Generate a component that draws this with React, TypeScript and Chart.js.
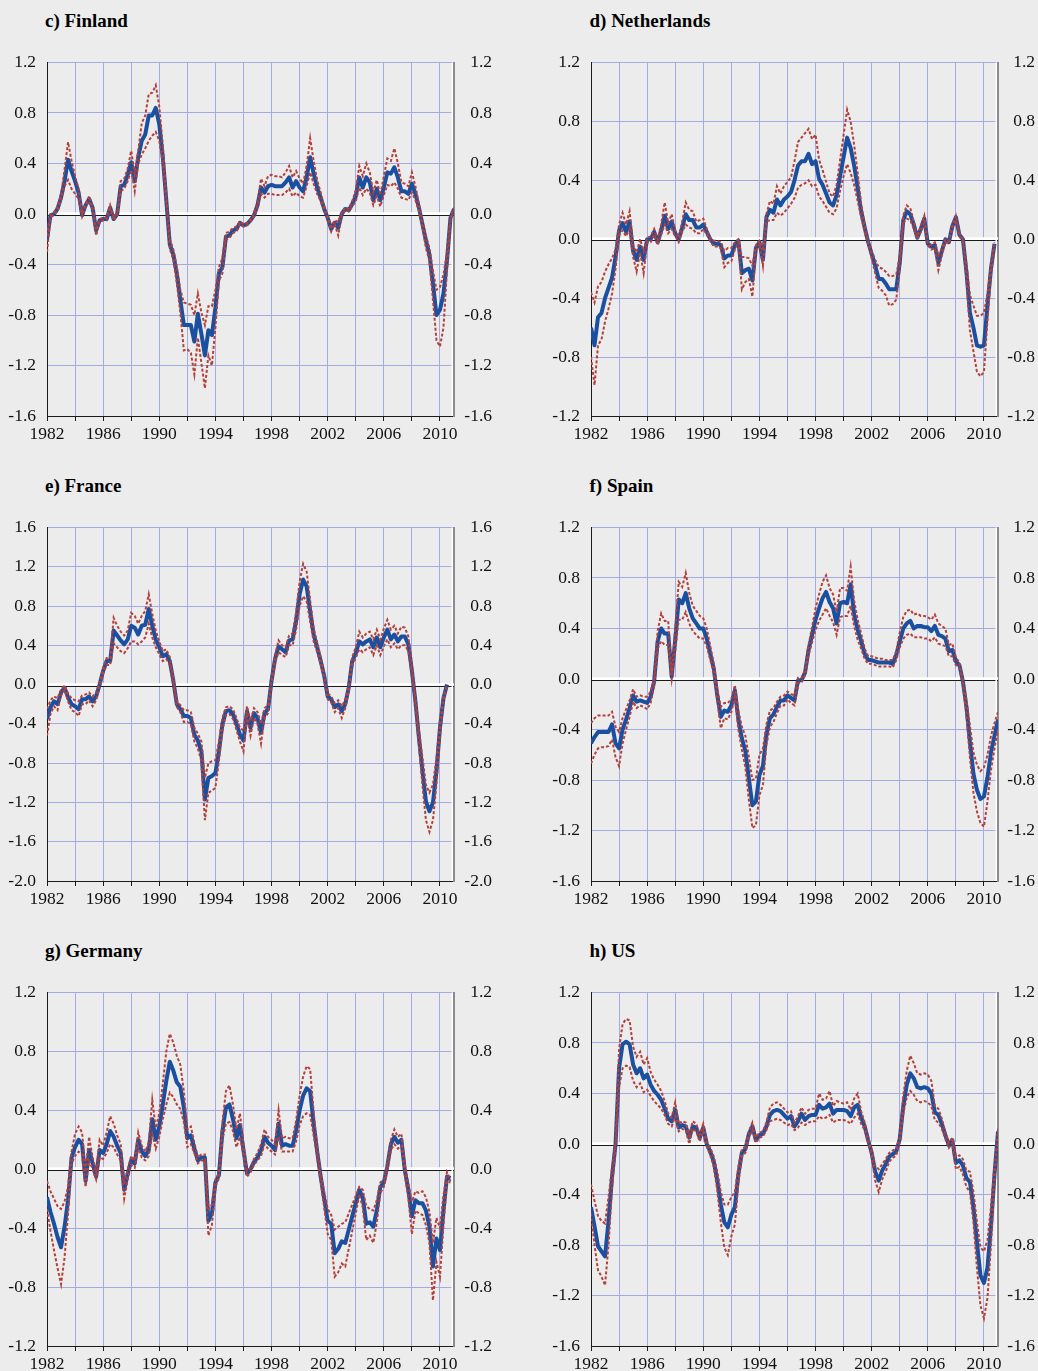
import React, { useEffect, useRef } from "react";
import { Chart, registerables } from "chart.js";

Chart.register(...registerables);

// ---------- data (quarterly, first point = 1982Q1) ----------
const START_YEAR = 1982;
const QUARTER = 0.25;
const X_MIN = 1982;
const X_MAX = 2011;
const X_GRID_STEP = 2;
const X_LABEL_STEP = 4;

const finlandMain = [
  -0.20, -0.01, 0.00, 0.04, 0.13, 0.26, 0.43, 0.34, 0.26, 0.17, -0.01, 0.07,
  0.12, 0.05, -0.13, -0.05, -0.04, -0.04, 0.05, -0.04, 0.00, 0.22, 0.23, 0.31,
  0.41, 0.26, 0.45, 0.58, 0.63, 0.78, 0.78, 0.84, 0.71, 0.45, 0.11, -0.24,
  -0.32, -0.47, -0.68, -0.88, -0.88, -0.88, -1.01, -0.79, -0.95, -1.12, -0.92, -0.96,
  -0.74, -0.47, -0.42, -0.18, -0.17, -0.13, -0.12, -0.07, -0.09, -0.08, -0.05, -0.01,
  0.07, 0.21, 0.17, 0.22, 0.23, 0.22, 0.22, 0.22, 0.25, 0.29, 0.21, 0.26,
  0.21, 0.18, 0.29, 0.45, 0.32, 0.21, 0.13, 0.04, -0.03, -0.12, -0.07, -0.11,
  0.00, 0.04, 0.03, 0.08, 0.14, 0.29, 0.21, 0.29, 0.25, 0.11, 0.20, 0.11,
  0.21, 0.33, 0.32, 0.37, 0.29, 0.18, 0.18, 0.16, 0.24, 0.16, 0.05, -0.08,
  -0.21, -0.32, -0.55, -0.80, -0.76, -0.63, -0.37, -0.03, 0.04,
];
const finlandUpper = [
  -0.17, 0.00, 0.01, 0.06, 0.15, 0.35, 0.57, 0.42, 0.30, 0.20, 0.01, 0.08,
  0.14, 0.06, -0.11, -0.04, -0.03, -0.03, 0.07, -0.03, 0.01, 0.26, 0.28, 0.36,
  0.50, 0.32, 0.50, 0.72, 0.78, 0.95, 0.96, 1.02, 0.85, 0.55, 0.15, -0.20,
  -0.28, -0.42, -0.60, -0.70, -0.71, -0.72, -0.80, -0.63, -0.78, -0.88, -0.73, -0.73,
  -0.60, -0.42, -0.35, -0.15, -0.14, -0.11, -0.10, -0.06, -0.08, -0.07, -0.04, 0.00,
  0.09, 0.28, 0.22, 0.30, 0.31, 0.30, 0.30, 0.29, 0.33, 0.38, 0.29, 0.34,
  0.28, 0.24, 0.38, 0.60, 0.42, 0.27, 0.17, 0.06, -0.02, -0.10, -0.05, -0.06,
  0.01, 0.05, 0.04, 0.10, 0.19, 0.38, 0.30, 0.40, 0.33, 0.17, 0.27, 0.15,
  0.30, 0.44, 0.42, 0.52, 0.40, 0.25, 0.24, 0.22, 0.33, 0.22, 0.08, -0.06,
  -0.17, -0.27, -0.45, -0.60, -0.58, -0.48, -0.30, -0.02, 0.05,
];
const finlandLower = [
  -0.30, -0.03, 0.00, 0.02, 0.11, 0.22, 0.27, 0.20, 0.16, 0.12, -0.02, 0.06,
  0.10, 0.04, -0.17, -0.06, -0.05, -0.05, 0.04, -0.05, -0.01, 0.18, 0.20, 0.26,
  0.35, 0.18, 0.40, 0.47, 0.52, 0.58, 0.62, 0.65, 0.58, 0.40, 0.08, -0.28,
  -0.36, -0.55, -0.78, -1.08, -1.07, -1.10, -1.27, -0.98, -1.18, -1.38, -1.12, -1.20,
  -0.90, -0.53, -0.47, -0.20, -0.19, -0.15, -0.14, -0.08, -0.10, -0.09, -0.06, -0.02,
  0.05, 0.16, 0.13, 0.16, 0.16, 0.15, 0.15, 0.15, 0.17, 0.20, 0.14, 0.17,
  0.14, 0.13, 0.22, 0.33, 0.24, 0.16, 0.10, 0.03, -0.04, -0.14, -0.08, -0.17,
  -0.01, 0.03, 0.02, 0.06, 0.10, 0.21, 0.15, 0.20, 0.17, 0.07, 0.14, 0.06,
  0.15, 0.23, 0.22, 0.25, 0.20, 0.13, 0.12, 0.11, 0.17, 0.11, 0.03, -0.10,
  -0.27, -0.37, -0.68, -1.00, -1.05, -0.90, -0.45, -0.05, 0.03,
];

const netherlandsMain = [
  -0.60, -0.72, -0.53, -0.50, -0.40, -0.33, -0.26, -0.12, 0.06, 0.11, 0.05, 0.12,
  -0.08, -0.14, -0.05, -0.14, 0.00, 0.00, 0.05, -0.02, 0.06, 0.16, 0.07, 0.12,
  0.04, 0.00, 0.08, 0.17, 0.13, 0.13, 0.08, 0.08, 0.10, 0.05, 0.00, -0.03,
  -0.03, -0.04, -0.13, -0.11, -0.11, -0.04, -0.01, -0.23, -0.21, -0.20, -0.28, -0.06,
  -0.02, -0.14, 0.15, 0.20, 0.18, 0.27, 0.23, 0.27, 0.29, 0.32, 0.40, 0.50,
  0.53, 0.53, 0.58, 0.51, 0.53, 0.41, 0.37, 0.31, 0.25, 0.23, 0.30, 0.43,
  0.56, 0.69, 0.62, 0.50, 0.35, 0.19, 0.08, -0.02, -0.10, -0.18, -0.27, -0.27,
  -0.30, -0.34, -0.34, -0.34, -0.16, 0.13, 0.19, 0.17, 0.10, 0.01, 0.07, 0.14,
  -0.03, -0.05, -0.04, -0.16, -0.08, 0.00, -0.02, 0.09, 0.15, 0.03, 0.00, -0.22,
  -0.50, -0.60, -0.72, -0.73, -0.72, -0.45, -0.20, -0.03,
];
const netherlandsUpper = [
  -0.36, -0.43, -0.32, -0.29, -0.22, -0.17, -0.13, -0.07, 0.10, 0.18, 0.10, 0.19,
  -0.04, -0.09, 0.00, -0.08, 0.01, 0.02, 0.07, 0.00, 0.10, 0.25, 0.11, 0.17,
  0.06, 0.01, 0.12, 0.25, 0.20, 0.19, 0.12, 0.13, 0.14, 0.07, 0.01, -0.01,
  -0.01, -0.02, -0.08, -0.06, -0.06, -0.02, 0.00, -0.12, -0.12, -0.13, -0.18, -0.04,
  -0.01, -0.08, 0.17, 0.26, 0.24, 0.36, 0.31, 0.36, 0.39, 0.42, 0.53, 0.66,
  0.69, 0.72, 0.75, 0.68, 0.71, 0.54, 0.47, 0.39, 0.31, 0.29, 0.37, 0.54,
  0.71, 0.88, 0.80, 0.64, 0.45, 0.24, 0.10, -0.01, -0.08, -0.14, -0.19, -0.20,
  -0.22, -0.25, -0.25, -0.24, -0.12, 0.16, 0.23, 0.21, 0.12, 0.02, 0.09, 0.16,
  -0.02, -0.04, -0.02, -0.11, -0.06, 0.00, -0.01, 0.10, 0.16, 0.04, 0.00, -0.17,
  -0.38, -0.45, -0.52, -0.52, -0.50, -0.37, -0.17, -0.02,
];
const netherlandsLower = [
  -0.80, -0.99, -0.72, -0.68, -0.56, -0.47, -0.37, -0.20, 0.03, 0.06, 0.02, 0.07,
  -0.12, -0.22, -0.09, -0.23, -0.02, -0.02, 0.03, -0.04, 0.03, 0.10, 0.04, 0.07,
  0.02, -0.02, 0.05, 0.10, 0.08, 0.07, 0.04, 0.04, 0.07, 0.03, -0.01, -0.05,
  -0.05, -0.06, -0.19, -0.16, -0.15, -0.07, -0.02, -0.34, -0.29, -0.27, -0.39, -0.08,
  -0.03, -0.18, 0.12, 0.13, 0.13, 0.18, 0.16, 0.18, 0.21, 0.24, 0.28, 0.35,
  0.37, 0.38, 0.40, 0.36, 0.37, 0.29, 0.26, 0.22, 0.18, 0.17, 0.21, 0.33,
  0.43, 0.51, 0.45, 0.37, 0.26, 0.15, 0.05, -0.03, -0.13, -0.23, -0.33, -0.35,
  -0.38, -0.45, -0.44, -0.41, -0.20, 0.11, 0.14, 0.13, 0.07, 0.00, 0.05, 0.11,
  -0.04, -0.07, -0.06, -0.21, -0.11, -0.02, -0.03, 0.07, 0.13, 0.02, -0.01, -0.27,
  -0.62, -0.76, -0.90, -0.93, -0.90, -0.55, -0.24, -0.04,
];

const franceMain = [
  -0.35, -0.23, -0.17, -0.20, -0.08, -0.03, -0.13, -0.20, -0.22, -0.25, -0.15, -0.15,
  -0.12, -0.17, -0.12, 0.00, 0.14, 0.24, 0.24, 0.55, 0.50, 0.45, 0.41, 0.46,
  0.60, 0.58, 0.51, 0.60, 0.61, 0.77, 0.60, 0.46, 0.38, 0.29, 0.31, 0.24,
  0.04, -0.20, -0.25, -0.32, -0.32, -0.34, -0.51, -0.57, -0.68, -1.17, -0.95, -0.93,
  -0.90, -0.68, -0.40, -0.27, -0.26, -0.30, -0.40, -0.51, -0.57, -0.27, -0.44, -0.29,
  -0.34, -0.49, -0.29, -0.25, 0.04, 0.26, 0.39, 0.36, 0.33, 0.45, 0.46, 0.65,
  0.92, 1.07, 1.00, 0.75, 0.51, 0.38, 0.24, 0.09, -0.12, -0.15, -0.23, -0.20,
  -0.27, -0.20, -0.03, 0.24, 0.32, 0.44, 0.41, 0.44, 0.46, 0.38, 0.48, 0.38,
  0.48, 0.56, 0.46, 0.51, 0.44, 0.49, 0.49, 0.41, 0.14, -0.17, -0.54, -0.88,
  -1.19, -1.29, -1.20, -0.88, -0.44, -0.14, 0.00,
];
const franceUpper = [
  -0.25, -0.16, -0.12, -0.14, -0.05, -0.01, -0.09, -0.14, -0.16, -0.17, -0.11, -0.10,
  -0.08, -0.12, -0.08, 0.02, 0.17, 0.27, 0.27, 0.68, 0.60, 0.54, 0.50, 0.55,
  0.73, 0.70, 0.62, 0.70, 0.75, 0.92, 0.72, 0.55, 0.44, 0.34, 0.36, 0.28,
  0.07, -0.17, -0.21, -0.26, -0.26, -0.28, -0.44, -0.50, -0.58, -0.95, -0.80, -0.78,
  -0.77, -0.58, -0.34, -0.23, -0.22, -0.25, -0.34, -0.44, -0.47, -0.22, -0.37, -0.24,
  -0.28, -0.40, -0.24, -0.21, 0.06, 0.30, 0.45, 0.40, 0.38, 0.50, 0.52, 0.74,
  1.05, 1.23, 1.15, 0.86, 0.57, 0.43, 0.28, 0.11, -0.09, -0.12, -0.19, -0.16,
  -0.22, -0.16, 0.00, 0.28, 0.38, 0.54, 0.48, 0.52, 0.54, 0.46, 0.56, 0.46,
  0.57, 0.66, 0.56, 0.60, 0.52, 0.59, 0.58, 0.49, 0.18, -0.13, -0.46, -0.74,
  -1.02, -1.10, -1.02, -0.75, -0.37, -0.11, 0.00,
];
const franceLower = [
  -0.52, -0.30, -0.22, -0.26, -0.11, -0.05, -0.17, -0.26, -0.28, -0.32, -0.20, -0.20,
  -0.16, -0.22, -0.16, -0.02, 0.11, 0.20, 0.20, 0.42, 0.38, 0.34, 0.32, 0.37,
  0.44, 0.44, 0.41, 0.44, 0.48, 0.62, 0.48, 0.38, 0.31, 0.24, 0.26, 0.20,
  0.01, -0.23, -0.28, -0.38, -0.38, -0.40, -0.58, -0.65, -0.78, -1.38, -1.10, -1.08,
  -1.05, -0.78, -0.46, -0.31, -0.30, -0.35, -0.46, -0.58, -0.68, -0.32, -0.52, -0.34,
  -0.40, -0.60, -0.34, -0.29, 0.01, 0.22, 0.33, 0.30, 0.28, 0.40, 0.40, 0.56,
  0.80, 0.90, 0.85, 0.64, 0.44, 0.33, 0.21, 0.07, -0.15, -0.18, -0.28, -0.24,
  -0.34, -0.24, -0.06, 0.20, 0.27, 0.36, 0.33, 0.36, 0.38, 0.30, 0.40, 0.30,
  0.39, 0.46, 0.38, 0.42, 0.36, 0.40, 0.40, 0.34, 0.10, -0.21, -0.62, -1.02,
  -1.38, -1.50, -1.38, -1.02, -0.52, -0.17, -0.01,
];

const spainMain = [
  -0.51, -0.46, -0.42, -0.42, -0.42, -0.42, -0.36, -0.51, -0.55, -0.40, -0.32, -0.23,
  -0.13, -0.18, -0.17, -0.18, -0.19, -0.14, -0.02, 0.30, 0.40, 0.36, 0.36, 0.02,
  0.31, 0.63, 0.60, 0.68, 0.56, 0.48, 0.44, 0.40, 0.40, 0.32, 0.20, 0.08,
  -0.13, -0.30, -0.25, -0.26, -0.21, -0.09, -0.32, -0.47, -0.57, -0.79, -1.00, -0.97,
  -0.76, -0.69, -0.44, -0.31, -0.28, -0.22, -0.17, -0.17, -0.13, -0.15, -0.17, -0.01,
  -0.01, 0.05, 0.23, 0.35, 0.47, 0.56, 0.64, 0.69, 0.61, 0.56, 0.44, 0.60,
  0.61, 0.60, 0.75, 0.51, 0.39, 0.30, 0.20, 0.15, 0.15, 0.14, 0.13, 0.13,
  0.13, 0.13, 0.12, 0.19, 0.30, 0.40, 0.44, 0.46, 0.40, 0.42, 0.42, 0.41,
  0.41, 0.38, 0.42, 0.35, 0.34, 0.32, 0.22, 0.23, 0.14, 0.11, -0.02, -0.22,
  -0.50, -0.75, -0.88, -0.95, -0.93, -0.78, -0.58, -0.45, -0.32,
];
const spainUpper = [
  -0.35, -0.31, -0.29, -0.29, -0.29, -0.29, -0.26, -0.38, -0.42, -0.31, -0.24, -0.17,
  -0.08, -0.14, -0.13, -0.14, -0.14, -0.10, 0.00, 0.38, 0.52, 0.46, 0.46, 0.04,
  0.40, 0.77, 0.73, 0.84, 0.68, 0.58, 0.54, 0.50, 0.48, 0.40, 0.26, 0.12,
  -0.08, -0.22, -0.19, -0.19, -0.16, -0.05, -0.25, -0.38, -0.45, -0.62, -0.80, -0.79,
  -0.60, -0.55, -0.36, -0.25, -0.23, -0.18, -0.14, -0.13, -0.10, -0.12, -0.13, 0.01,
  0.01, 0.07, 0.27, 0.41, 0.56, 0.67, 0.77, 0.82, 0.72, 0.67, 0.53, 0.72,
  0.72, 0.70, 0.89, 0.62, 0.47, 0.36, 0.24, 0.18, 0.18, 0.17, 0.16, 0.16,
  0.15, 0.15, 0.15, 0.22, 0.37, 0.49, 0.54, 0.55, 0.51, 0.52, 0.50, 0.50,
  0.49, 0.47, 0.51, 0.44, 0.42, 0.40, 0.27, 0.28, 0.17, 0.13, -0.01, -0.17,
  -0.37, -0.58, -0.68, -0.73, -0.70, -0.60, -0.45, -0.35, -0.26,
];
const spainLower = [
  -0.67, -0.60, -0.55, -0.54, -0.54, -0.53, -0.48, -0.62, -0.69, -0.51, -0.40, -0.30,
  -0.18, -0.23, -0.21, -0.22, -0.24, -0.19, -0.05, 0.24, 0.30, 0.27, 0.27, 0.00,
  0.22, 0.47, 0.47, 0.53, 0.44, 0.38, 0.35, 0.32, 0.32, 0.26, 0.15, 0.05,
  -0.17, -0.39, -0.31, -0.32, -0.26, -0.14, -0.40, -0.56, -0.70, -0.96, -1.18, -1.16,
  -0.92, -0.84, -0.52, -0.38, -0.34, -0.27, -0.21, -0.21, -0.16, -0.19, -0.21, -0.03,
  -0.03, 0.03, 0.19, 0.29, 0.39, 0.46, 0.51, 0.56, 0.50, 0.45, 0.35, 0.49,
  0.50, 0.50, 0.58, 0.42, 0.31, 0.24, 0.16, 0.12, 0.12, 0.11, 0.10, 0.10,
  0.10, 0.10, 0.09, 0.15, 0.25, 0.32, 0.35, 0.36, 0.33, 0.33, 0.33, 0.32,
  0.32, 0.30, 0.33, 0.28, 0.27, 0.26, 0.18, 0.18, 0.11, 0.09, -0.04, -0.28,
  -0.62, -0.90, -1.05, -1.14, -1.17, -0.97, -0.72, -0.55, -0.40,
];

const germanyMain = [
  -0.19, -0.29, -0.37, -0.46, -0.53, -0.39, -0.21, 0.08, 0.15, 0.20, 0.17, -0.08,
  0.13, 0.04, -0.05, 0.13, 0.11, 0.17, 0.26, 0.22, 0.16, 0.11, -0.14, -0.03,
  0.06, 0.04, 0.20, 0.12, 0.09, 0.13, 0.34, 0.20, 0.29, 0.44, 0.60, 0.73,
  0.67, 0.59, 0.56, 0.42, 0.21, 0.23, 0.14, 0.06, 0.08, 0.08, -0.35, -0.30,
  -0.09, -0.04, 0.26, 0.42, 0.44, 0.34, 0.21, 0.30, 0.13, -0.03, 0.00, 0.05,
  0.08, 0.13, 0.22, 0.18, 0.16, 0.13, 0.31, 0.16, 0.17, 0.16, 0.16, 0.26,
  0.40, 0.50, 0.55, 0.53, 0.31, 0.12, -0.05, -0.20, -0.35, -0.37, -0.57, -0.54,
  -0.49, -0.50, -0.41, -0.32, -0.23, -0.14, -0.19, -0.37, -0.36, -0.39, -0.28, -0.12,
  -0.09, 0.02, 0.17, 0.22, 0.18, 0.20, -0.01, -0.14, -0.32, -0.21, -0.23, -0.23,
  -0.28, -0.39, -0.66, -0.47, -0.55, -0.28, -0.05, -0.06,
];
const germanyUpper = [
  -0.08, -0.15, -0.20, -0.25, -0.27, -0.22, -0.12, 0.12, 0.24, 0.29, 0.25, -0.02,
  0.22, 0.08, -0.02, 0.20, 0.16, 0.25, 0.36, 0.31, 0.23, 0.17, -0.10, 0.00,
  0.09, 0.06, 0.25, 0.16, 0.12, 0.18, 0.47, 0.28, 0.38, 0.58, 0.80, 0.92,
  0.86, 0.77, 0.71, 0.53, 0.27, 0.29, 0.18, 0.08, 0.10, 0.10, -0.27, -0.24,
  -0.07, -0.03, 0.32, 0.53, 0.57, 0.44, 0.27, 0.38, 0.17, -0.01, 0.01, 0.07,
  0.11, 0.17, 0.27, 0.22, 0.20, 0.17, 0.40, 0.21, 0.22, 0.21, 0.21, 0.33,
  0.50, 0.63, 0.70, 0.68, 0.39, 0.15, -0.03, -0.15, -0.27, -0.31, -0.41, -0.39,
  -0.37, -0.36, -0.30, -0.24, -0.18, -0.12, -0.14, -0.25, -0.27, -0.28, -0.21, -0.09,
  -0.07, 0.04, 0.20, 0.27, 0.22, 0.24, 0.03, -0.10, -0.22, -0.15, -0.16, -0.15,
  -0.19, -0.29, -0.50, -0.33, -0.40, -0.18, -0.02, -0.08,
];
const germanyLower = [
  -0.27, -0.42, -0.55, -0.67, -0.78, -0.60, -0.30, 0.04, 0.09, 0.12, 0.10, -0.12,
  0.06, 0.00, -0.07, 0.08, 0.07, 0.11, 0.17, 0.15, 0.10, 0.06, -0.20, -0.07,
  0.03, 0.01, 0.15, 0.08, 0.06, 0.09, 0.24, 0.14, 0.22, 0.34, 0.44, 0.52,
  0.49, 0.44, 0.41, 0.32, 0.15, 0.17, 0.11, 0.04, 0.06, 0.06, -0.45, -0.38,
  -0.12, -0.06, 0.20, 0.31, 0.32, 0.26, 0.15, 0.22, 0.10, -0.05, -0.02, 0.03,
  0.06, 0.09, 0.17, 0.14, 0.12, 0.10, 0.22, 0.12, 0.12, 0.12, 0.12, 0.19,
  0.30, 0.36, 0.38, 0.37, 0.23, 0.09, -0.08, -0.26, -0.44, -0.48, -0.73, -0.70,
  -0.64, -0.66, -0.54, -0.42, -0.30, -0.17, -0.26, -0.48, -0.45, -0.50, -0.36, -0.16,
  -0.12, -0.01, 0.13, 0.17, 0.14, 0.16, -0.04, -0.20, -0.44, -0.28, -0.30, -0.31,
  -0.38, -0.50, -0.89, -0.63, -0.73, -0.38, -0.08, -0.09,
];

const usMain = [
  -0.50, -0.65, -0.81, -0.85, -0.89, -0.61, -0.26, 0.00, 0.60, 0.79, 0.81, 0.79,
  0.63, 0.56, 0.60, 0.52, 0.55, 0.47, 0.42, 0.39, 0.35, 0.28, 0.20, 0.18,
  0.27, 0.13, 0.15, 0.14, 0.05, 0.14, 0.13, 0.05, 0.13, 0.00, -0.06, -0.14,
  -0.29, -0.48, -0.62, -0.66, -0.56, -0.50, -0.24, -0.07, -0.04, 0.08, 0.14, 0.03,
  0.07, 0.08, 0.14, 0.23, 0.26, 0.27, 0.26, 0.23, 0.20, 0.22, 0.14, 0.18,
  0.24, 0.19, 0.22, 0.23, 0.23, 0.31, 0.28, 0.29, 0.32, 0.24, 0.27, 0.27,
  0.27, 0.26, 0.22, 0.29, 0.31, 0.21, 0.14, 0.03, -0.07, -0.22, -0.29, -0.21,
  -0.16, -0.10, -0.08, -0.06, 0.04, 0.30, 0.47, 0.56, 0.52, 0.45, 0.44, 0.45,
  0.44, 0.40, 0.25, 0.23, 0.16, 0.07, -0.01, 0.03, -0.15, -0.13, -0.17, -0.27,
  -0.30, -0.50, -0.78, -1.04, -1.10, -0.98, -0.65, -0.24, 0.10,
];
const usUpper = [
  -0.32, -0.45, -0.57, -0.61, -0.63, -0.42, -0.18, 0.02, 0.75, 0.95, 0.99, 0.98,
  0.77, 0.69, 0.73, 0.63, 0.68, 0.57, 0.51, 0.47, 0.42, 0.34, 0.24, 0.21,
  0.33, 0.16, 0.18, 0.17, 0.07, 0.18, 0.16, 0.07, 0.16, 0.02, -0.03, -0.10,
  -0.22, -0.38, -0.48, -0.48, -0.42, -0.38, -0.18, -0.04, -0.02, 0.10, 0.17, 0.05,
  0.09, 0.10, 0.17, 0.29, 0.32, 0.33, 0.31, 0.28, 0.25, 0.26, 0.17, 0.22,
  0.29, 0.24, 0.27, 0.28, 0.28, 0.40, 0.35, 0.36, 0.42, 0.30, 0.34, 0.33,
  0.32, 0.33, 0.27, 0.36, 0.40, 0.26, 0.17, 0.04, -0.05, -0.17, -0.20, -0.16,
  -0.12, -0.07, -0.05, -0.04, 0.06, 0.38, 0.58, 0.70, 0.64, 0.56, 0.55, 0.56,
  0.55, 0.50, 0.30, 0.28, 0.20, 0.09, 0.01, 0.05, -0.10, -0.09, -0.12, -0.21,
  -0.22, -0.38, -0.62, -0.82, -0.85, -0.76, -0.50, -0.18, 0.12,
];
const usLower = [
  -0.55, -0.80, -1.00, -1.05, -1.12, -0.80, -0.35, -0.02, 0.45, 0.60, 0.62, 0.61,
  0.50, 0.45, 0.48, 0.41, 0.43, 0.38, 0.34, 0.31, 0.28, 0.23, 0.16, 0.14,
  0.22, 0.10, 0.12, 0.11, 0.00, 0.12, 0.10, 0.02, 0.10, -0.02, -0.09, -0.18,
  -0.37, -0.62, -0.82, -0.88, -0.73, -0.64, -0.31, -0.10, -0.07, 0.05, 0.11, 0.01,
  0.05, 0.06, 0.11, 0.18, 0.19, 0.20, 0.19, 0.17, 0.15, 0.16, 0.11, 0.13,
  0.17, 0.15, 0.17, 0.18, 0.18, 0.22, 0.20, 0.21, 0.23, 0.17, 0.19, 0.19,
  0.19, 0.18, 0.16, 0.21, 0.24, 0.16, 0.11, 0.01, -0.10, -0.29, -0.38, -0.28,
  -0.22, -0.14, -0.11, -0.09, 0.02, 0.24, 0.37, 0.42, 0.39, 0.34, 0.33, 0.34,
  0.33, 0.30, 0.19, 0.17, 0.12, 0.04, -0.03, 0.01, -0.20, -0.18, -0.24, -0.34,
  -0.38, -0.62, -0.98, -1.28, -1.38, -1.22, -0.80, -0.30, 0.08,
];

// y-axis ranges per panel
const finlandRange = [-1.6, 1.2];
const netherlandsRange = [-1.2, 1.2];
const franceRange = [-2.0, 1.6];
const spainRange = [-1.6, 1.2];
const germanyRange = [-1.2, 1.2];
const usRange = [-1.6, 1.2];
const Y_STEP = 0.4;

const panelTitles = ["c) Finland", "d) Netherlands", "e) France", "f) Spain", "g) Germany", "h) US"];

// ---------- styles / layout ----------
const BG = "#ececec";
const GRID = "#a3abe2";
const MAIN_COLOR = "#1b4fa0";
const BAND_COLOR = "#b3403a";
const TEXT = "#111111";
const SERIF = "'Liberation Serif', 'Times New Roman', serif";

const PLOT_W = 407;
const PLOT_H = 355;
const PAD_TOP = 20;
const X_AXIS_H = 40;
const ROW_TOPS = [61, 526, 991];
const COLS = [
  { canvasLeft: 0, leftAxisW: 47, rightAxisW: 38, titleLeft: 45 },
  { canvasLeft: 540, leftAxisW: 51, rightAxisW: 37, titleLeft: 589.5 },
];

const toPoints = (vals: number[]) =>
  vals.map((y, i) => ({ x: START_YEAR + i * QUARTER, y }));

const isZero = (v: number) => Math.abs(v) < 1e-9;
const fmtTick = (v: any) => (isZero(Number(v)) ? "0.0" : Number(v).toFixed(1));

const decorPlugin = {
  id: "decor",
  beforeDatasetsDraw(chart: any) {
    const { ctx, chartArea, scales } = chart;
    const y0 = Math.round(scales.y.getPixelForValue(0));
    ctx.save();
    ctx.strokeStyle = "#ffffff";
    ctx.lineWidth = 2.5;
    ctx.beginPath();
    ctx.moveTo(chartArea.left + 1, y0 - 0.5);
    ctx.lineTo(chartArea.right, y0 - 0.5);
    ctx.stroke();
    ctx.strokeStyle = "#1a1a1a";
    ctx.lineWidth = 1;
    ctx.beginPath();
    ctx.moveTo(chartArea.left, y0 + 1.5);
    ctx.lineTo(chartArea.right, y0 + 1.5);
    ctx.stroke();
    ctx.strokeStyle = "#ffffff";
    ctx.lineWidth = 1.5;
    ctx.beginPath();
    ctx.moveTo(chartArea.right - 1.75, chartArea.top);
    ctx.lineTo(chartArea.right - 1.75, chartArea.bottom);
    ctx.stroke();
    ctx.restore();
  },
};

type PanelProps = {
  main: number[];
  upper: number[];
  lower: number[];
  range: number[];
  col: number;
  row: number;
};

function Panel({ main, upper, lower, range, col, row }: PanelProps) {
  const ref = useRef<HTMLCanvasElement | null>(null);
  const c = COLS[col];
  const W = c.leftAxisW + PLOT_W + c.rightAxisW;
  const H = PAD_TOP + PLOT_H + X_AXIS_H;
  const top = ROW_TOPS[row] - PAD_TOP;

  useEffect(() => {
    if (!ref.current) return;
    const [yMin, yMax] = range;
    const font = { family: SERIF, size: 17.5 };
    const yTicks = {
      stepSize: Y_STEP,
      font,
      color: TEXT,
      callback: fmtTick,
    };
    const chart = new Chart(ref.current, {
      type: "line",
      data: {
        datasets: [
          {
            data: toPoints(upper),
            borderColor: BAND_COLOR,
            borderWidth: 2,
            borderDash: [3, 2],
            pointRadius: 0,
            tension: 0,
            order: 1,
          },
          {
            data: toPoints(lower),
            borderColor: BAND_COLOR,
            borderWidth: 2,
            borderDash: [3, 2],
            pointRadius: 0,
            tension: 0,
            order: 1,
          },
          {
            data: toPoints(main),
            borderColor: MAIN_COLOR,
            borderWidth: 4,
            borderJoinStyle: "round",
            pointRadius: 0,
            tension: 0,
            order: 2,
          },
        ],
      },
      options: {
        responsive: false,
        animation: false,
        devicePixelRatio: 1,
        events: [],
        layout: { padding: { top: PAD_TOP, left: 0, right: 0, bottom: 0 } },
        plugins: { legend: { display: false }, tooltip: { enabled: false }, title: { display: false } },
        scales: {
          x: {
            type: "linear",
            min: X_MIN,
            max: X_MAX,
            ticks: {
              stepSize: X_GRID_STEP,
              includeBounds: false,
              autoSkip: false,
              maxRotation: 0,
              minRotation: 0,
              padding: 3,
              font,
              color: TEXT,
              callback: (v: any) => ((Number(v) - X_MIN) % X_LABEL_STEP === 0 ? String(v) : ""),
            },
            grid: {
              color: (ctx: any) => (ctx.tick && ctx.tick.value === X_MIN ? "rgba(0,0,0,0)" : GRID),
              lineWidth: 1,
              drawTicks: true,
              tickLength: 5,
              tickColor: "#1a1a1a",
              tickWidth: 1,
            },
            border: { display: true, color: "#1a1a1a", width: 1 },
            afterFit: (s: any) => {
              s.height = X_AXIS_H;
            },
          },
          y: {
            type: "linear",
            position: "left",
            min: yMin,
            max: yMax,
            ticks: { ...yTicks, padding: 11 },
            grid: {
              color: (ctx: any) => {
                const v = ctx.tick ? ctx.tick.value : null;
                if (v === null) return GRID;
                if (Math.abs(v - yMin) < 1e-9) return "rgba(0,0,0,0)";
                if (isZero(v)) return "#ffffff";
                return GRID;
              },
              lineWidth: 1,
              drawTicks: false,
            },
            border: { display: true, color: "#1a1a1a", width: 1 },
            afterFit: (s: any) => {
              s.width = c.leftAxisW;
            },
          },
          y2: {
            type: "linear",
            position: "right",
            display: true,
            min: yMin,
            max: yMax,
            ticks: { ...yTicks, crossAlign: "far", padding: 0 },
            grid: { display: false, drawTicks: false },
            border: { display: true, color: "#8c8c8c", width: 2 },
            afterFit: (s: any) => {
              s.width = c.rightAxisW;
            },
          },
        },
      },
      plugins: [decorPlugin],
    } as any);
    return () => chart.destroy();
  }, []);

  return (
    <canvas
      ref={ref}
      width={W}
      height={H}
      style={{ position: "absolute", left: c.canvasLeft, top, width: W, height: H }}
    />
  );
}

const panels = [
  { main: finlandMain, upper: finlandUpper, lower: finlandLower, range: finlandRange },
  { main: netherlandsMain, upper: netherlandsUpper, lower: netherlandsLower, range: netherlandsRange },
  { main: franceMain, upper: franceUpper, lower: franceLower, range: franceRange },
  { main: spainMain, upper: spainUpper, lower: spainLower, range: spainRange },
  { main: germanyMain, upper: germanyUpper, lower: germanyLower, range: germanyRange },
  { main: usMain, upper: usUpper, lower: usLower, range: usRange },
];

export default function App() {
  useEffect(() => {
    document.body.style.margin = "0";
    document.body.style.background = BG;
  }, []);
  return (
    <div
      style={{
        position: "absolute",
        left: 0,
        top: 0,
        width: 1038,
        height: 1371,
        background: BG,
        overflow: "hidden",
      }}
    >
      {panels.map((p, i) => {
        const col = i % 2;
        const row = Math.floor(i / 2);
        return (
          <React.Fragment key={i}>
            <div
              style={{
                position: "absolute",
                left: COLS[col].titleLeft,
                top: ROW_TOPS[row] - 50,
                fontFamily: SERIF,
                fontWeight: "bold",
                fontSize: 19,
                lineHeight: "19px",
                color: "#000",
                whiteSpace: "nowrap",
              }}
            >
              {panelTitles[i]}
            </div>
            <Panel {...p} col={col} row={row} />
          </React.Fragment>
        );
      })}
    </div>
  );
}
